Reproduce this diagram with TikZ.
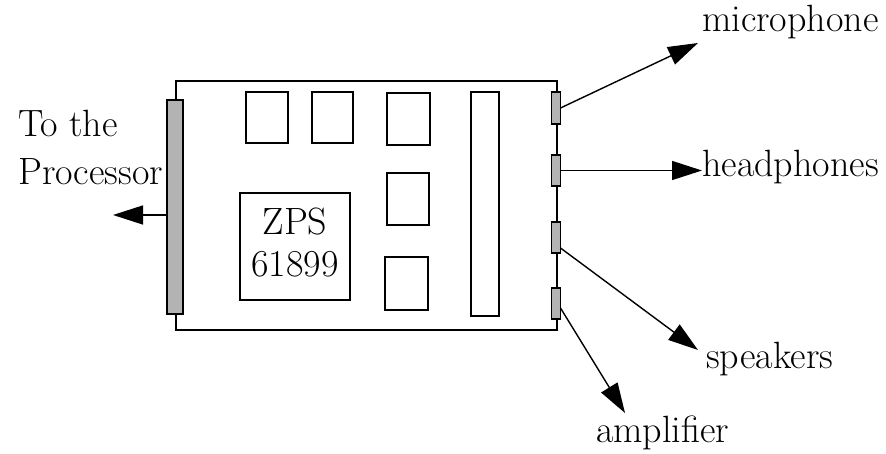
\documentclass[tikz,border=0pt]{standalone}
\usetikzlibrary{arrows.meta}
\definecolor{pingray}{HTML}{B3B3B3}
\tikzset{
  part/.style={draw, line width=1.8pt, inner sep=0pt, outer sep=0pt},
  board/.style={part, line width=2pt},
  pins/.style={part, fill=pingray},
  lbl/.style={anchor=base west, inner sep=0pt, font=\fontsize{38}{44}\selectfont},
  wire/.style={line width=1.4pt, -{Triangle[length=30pt,width=19pt]}}
}
\begin{document}
\begin{tikzpicture}[x=1pt,y=-1pt]
\useasboundingbox (0,0) rectangle (886,454);
% circuit board
\node[board, minimum width=381pt, minimum height=249pt] (pcb) at (366.5,205.5) {};
% edge connector to the processor
\node[pins, minimum width=16pt, minimum height=214pt] (edge) at (174.7,207) {};
% chips
\node[part, minimum width=42.6pt, minimum height=51pt] (ic1) at (267,117.8) {};
\node[part, minimum width=41.6pt, minimum height=51pt] (ic2) at (332.5,117.8) {};
\node[part, minimum width=43pt, minimum height=51.7pt] (ic3) at (408.3,119) {};
\node[part, minimum width=42pt, minimum height=52pt] (ic4) at (408,199) {};
\node[part, minimum width=43pt, minimum height=53pt] (ic5) at (406.7,283.7) {};
\node[part, minimum width=110pt, minimum height=106.7pt] (zps) at (295,246.7) {};
\node[lbl, anchor=base] (zpsA) at (295,235) {ZPS};
\node[lbl, anchor=base] (zpsB) at (295,276.7) {61899};
\node[part, minimum width=28.6pt, minimum height=223.7pt] (strip) at (485,204) {};
% audio jacks on the right edge
\node[pins, minimum width=9pt, minimum height=32pt] (j1) at (556,108) {};
\node[pins, minimum width=9pt, minimum height=31pt] (j2) at (556,170.5) {};
\node[pins, minimum width=9pt, minimum height=31pt] (j3) at (556,237.5) {};
\node[pins, minimum width=9pt, minimum height=31pt] (j4) at (556,303.5) {};
% labels
\node[lbl] (to) at (18,137) {To the};
\node[lbl] (proc) at (18,185) {Processor};
\node[lbl] (mic) at (702,32) {microphone};
\node[lbl] (hp) at (702,176.7) {headphones};
\node[lbl] (spk) at (706,368) {speakers};
\node[lbl] (amp) at (596,442.7) {amplifier};
% connections
\coordinate (pout) at (113,215);
\coordinate (micend) at (698,43);
\coordinate (spkend) at (698,350);
\coordinate (ampend) at (625,413);
\draw[wire] (edge.west |- pout) -- (pout);
\draw[wire] (j1.east) -- (micend);
\draw[wire] (j2.east) -- (hp.west |- j2.east);
\draw[wire] (j3.east |- 0,248) -- (spkend);
\draw[wire] (j4.east |- 0,308) -- (ampend);
\end{tikzpicture}
\end{document}
